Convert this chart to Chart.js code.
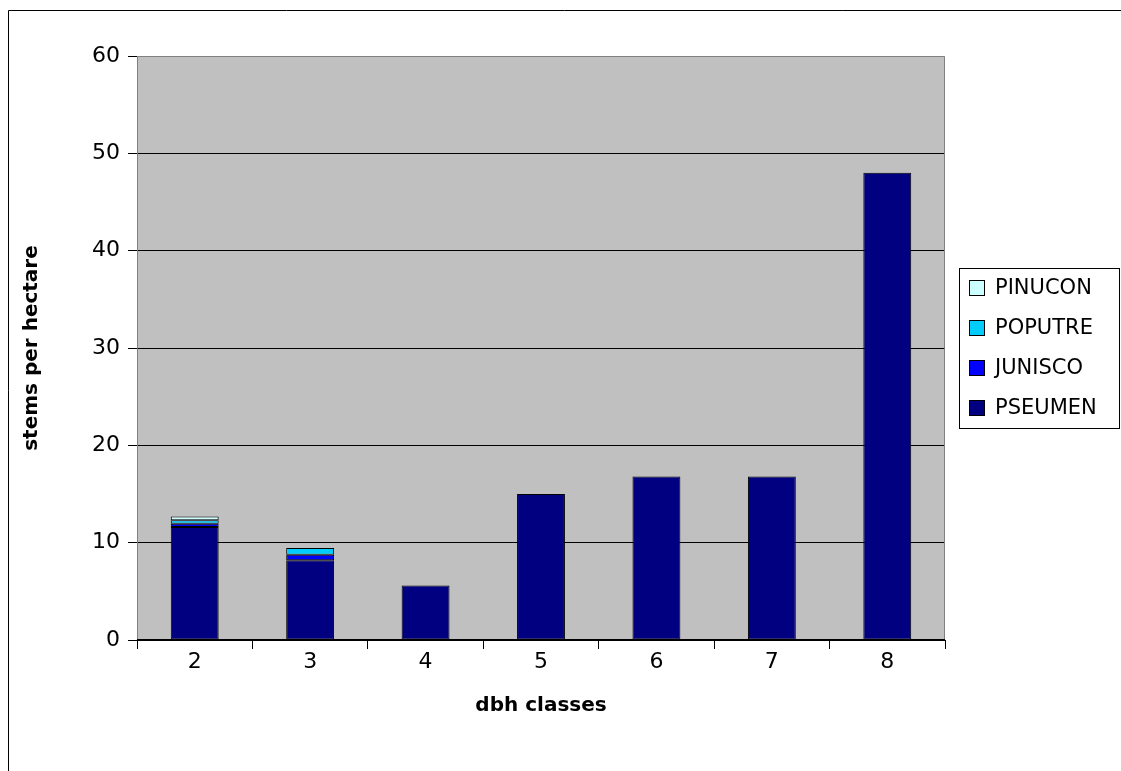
<!DOCTYPE html>
<html>
<head>
<meta charset="utf-8">
<style>
  html, body { margin: 0; padding: 0; background: #fff; }
  #wrap { position: relative; width: 1121px; height: 771px; }
</style>
<script src="https://cdn.jsdelivr.net/npm/chart.js@4.4.1/dist/chart.umd.min.js"></script>
</head>
<body>
<div id="wrap"><canvas id="c" width="1121" height="771"></canvas></div>
<script>
// dbh classes on the horizontal axis
const dbhClasses = ['2', '3', '4', '5', '6', '7', '8'];

// stems per hectare, by species
const pseumen = [11.6, 8.2, 5.6, 15.0, 16.8, 16.8, 48.0];
const junisco = [0.35, 0.55, 0, 0, 0, 0, 0];
const poputre = [0.35, 0.7, 0, 0, 0, 0, 0];
const pinucon = [0.4, 0, 0, 0, 0, 0, 0];

const FONT = 'DejaVu Sans';

// legend drawn at the right of the plot, last series on top
const legendPlugin = {
  id: 'sideLegend',
  afterDraw(chart) {
    const ctx = chart.ctx;
    const items = chart.data.datasets.slice().reverse();
    const boxL = 959, boxR = 1119, rowH = 40, top = 268;
    const boxB = top + rowH * items.length;
    ctx.save();
    ctx.fillStyle = '#fff';
    ctx.fillRect(boxL, top, boxR - boxL, boxB - top);
    ctx.strokeStyle = '#000';
    ctx.lineWidth = 1;
    ctx.strokeRect(boxL + 0.5, top + 0.5, boxR - boxL, boxB - top);
    ctx.font = '21px "' + FONT + '"';
    ctx.textBaseline = 'middle';
    items.forEach((ds, i) => {
      const cy = top + rowH * i + rowH / 2;
      ctx.fillStyle = ds.backgroundColor;
      ctx.fillRect(969, cy - 8, 16, 16);
      ctx.strokeStyle = '#000';
      ctx.strokeRect(969.5, cy - 7.5, 15, 15);
      ctx.fillStyle = '#000';
      ctx.fillText(ds.label, 995, cy + 1);
    });
    ctx.restore();
  }
};

// plot background, plot border and outer frame
const framePlugin = {
  id: 'frame',
  beforeDraw(chart) {
    const ctx = chart.ctx;
    const a = chart.chartArea;
    ctx.save();
    ctx.fillStyle = '#c0c0c0';
    ctx.fillRect(a.left, a.top, a.right - a.left, a.bottom - a.top);
    ctx.strokeStyle = '#000';
    ctx.lineWidth = 1;
    ctx.beginPath();
    ctx.moveTo(8.5, 771);
    ctx.lineTo(8.5, 10.5);
    ctx.lineTo(1121, 10.5);
    ctx.stroke();
    ctx.restore();
  },
  afterDatasetsDraw(chart) {
    const ctx = chart.ctx;
    const a = chart.chartArea;
    ctx.save();
    ctx.strokeStyle = '#808080';
    ctx.lineWidth = 1;
    ctx.beginPath();
    ctx.moveTo(a.left + 0.5, a.bottom);
    ctx.lineTo(a.left + 0.5, a.top + 0.5);
    ctx.lineTo(a.right - 0.5, a.top + 0.5);
    ctx.lineTo(a.right - 0.5, a.bottom);
    ctx.stroke();
    ctx.strokeStyle = '#000';
    ctx.beginPath();
    ctx.moveTo(a.left, a.bottom - 0.5);
    ctx.lineTo(a.right, a.bottom - 0.5);
    ctx.stroke();
    ctx.restore();
  }
};

function series(label, data, color) {
  return {
    label, data,
    backgroundColor: color,
    borderColor: '#000',
    borderWidth: 1,
    borderSkipped: false,
    categoryPercentage: 0.415,
    barPercentage: 1
  };
}

new Chart(document.getElementById('c'), {
  type: 'bar',
  data: {
    labels: dbhClasses,
    datasets: [
      series('PSEUMEN', pseumen, '#000080'),
      series('JUNISCO', junisco, '#0000ff'),
      series('POPUTRE', poputre, '#00ccff'),
      series('PINUCON', pinucon, '#ccffff')
    ]
  },
  options: {
    responsive: false,
    animation: false,
    layout: { padding: { top: 56, right: 176, left: 0, bottom: 0 } },
    plugins: {
      legend: { display: false },
      tooltip: { enabled: false }
    },
    scales: {
      x: {
        stacked: true,
        afterFit(s) { s.height = 131; },
        grid: {
          offset: true,
          drawOnChartArea: false,
          drawTicks: true,
          tickLength: 9,
          color: '#000'
        },
        border: { display: false },
        ticks: { color: '#000', font: { family: FONT, size: 22 }, padding: 0, maxRotation: 0 },
        title: {
          display: true, text: 'dbh classes', color: '#000',
          font: { family: FONT, size: 20, weight: 'bold' },
          padding: { top: 0, bottom: 53 }
        }
      },
      y: {
        stacked: true,
        min: 0, max: 60,
        afterFit(s) { s.width = 137; },
        grid: {
          color: (c) => (c.tick && c.tick.value === 60 ? 'rgba(0,0,0,0)' : '#000'),
          tickColor: '#000',
          tickLength: 9,
          drawTicks: true
        },
        border: { display: false },
        ticks: { stepSize: 10, color: '#000', font: { family: FONT, size: 22 }, padding: 8 },
        title: {
          display: true, text: 'stems per hectare', color: '#000',
          font: { family: FONT, size: 20, weight: 'bold' },
          padding: { top: 20, bottom: 0 }
        }
      }
    }
  },
  plugins: [framePlugin, legendPlugin]
});
</script>
</body>
</html>
